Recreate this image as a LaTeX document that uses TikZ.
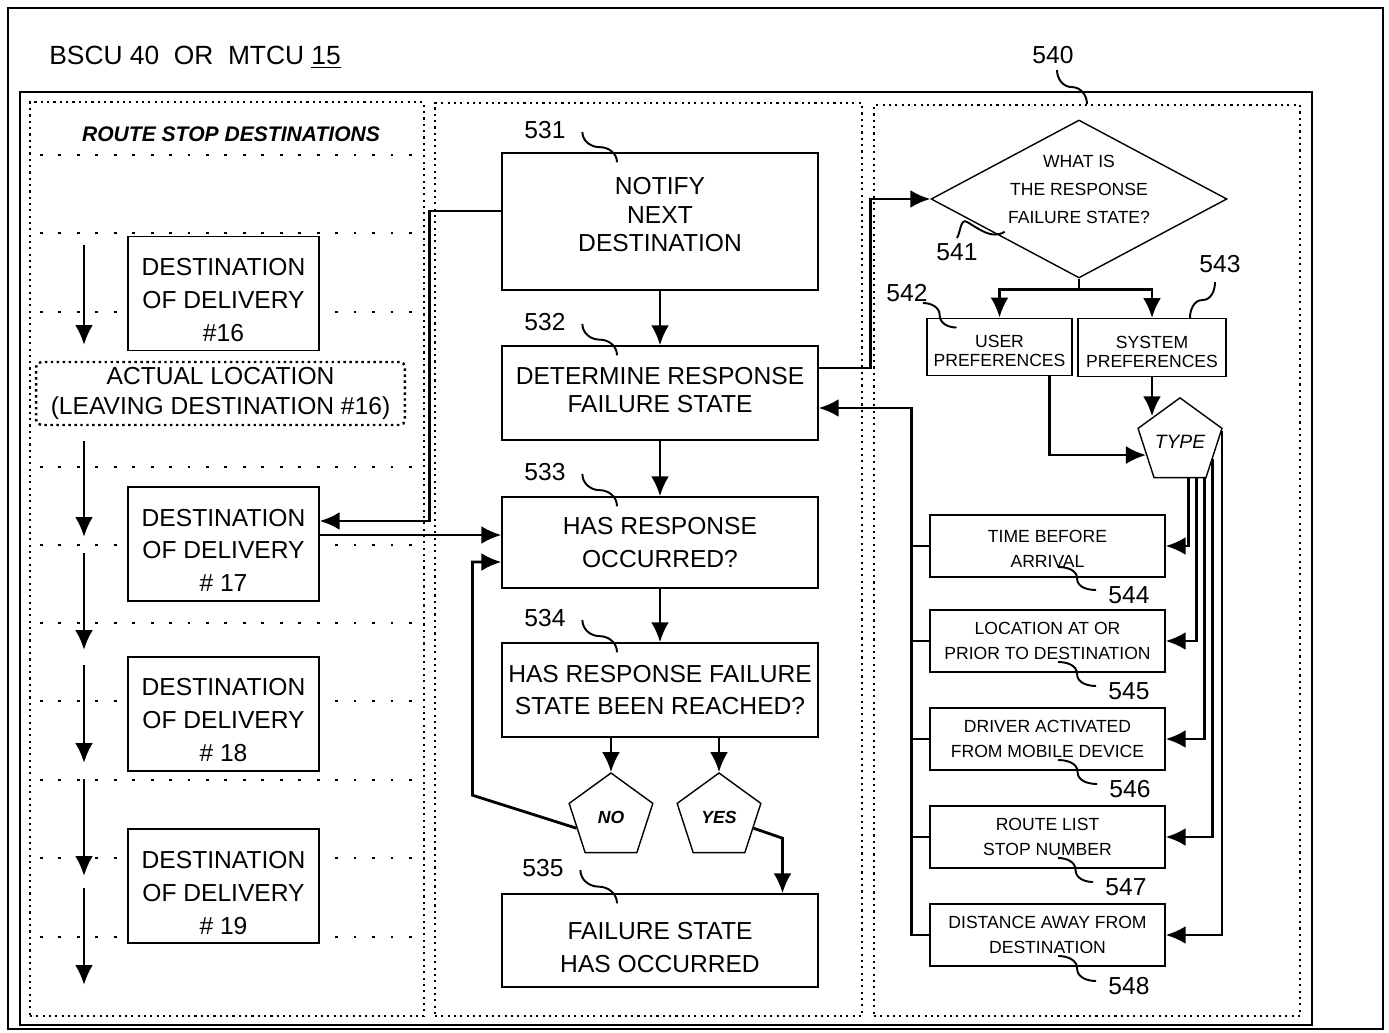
\documentclass[tikz,border=0pt]{standalone}
\usepackage{fontspec}
\setmainfont{Liberation Sans}
\usetikzlibrary{arrows.meta,shapes.geometric,calc}

\tikzset{
  box/.style={draw, line width=0.8pt, fill=white, align=center, inner sep=0pt,
    font=\fontsize{14}{18.7}\selectfont},
  dest/.style={box, minimum width=3.82cm, minimum height=2.28cm},
  stepbox/.style={box, minimum width=6.32cm, minimum height=1.86cm},
  prefbox/.style={box, minimum height=1.15cm, font=\fontsize{10}{10.8}\selectfont},
  typebox/.style={box, minimum width=4.7cm, minimum height=1.24cm,
    font=\fontsize{10}{14.2}\selectfont},
  penta/.style={draw, line width=0.8pt, fill=white, regular polygon,
    regular polygon sides=5, minimum size=1.76cm, inner sep=0pt},
  refnum/.style={font=\fontsize{14}{16}\selectfont, inner sep=0pt},
  flow/.style={line width=1.6pt, -{Latex[length=0.4cm,width=0.36cm]}},
  wire/.style={line width=1.6pt},
  lead/.style={line width=1.1pt},
  colbox/.style={draw, line width=1pt, dash pattern=on 1.2pt off 2.4pt, inner sep=0pt},
  rowline/.style={line width=1.6pt, dash pattern=on 1.6pt off 8.9pt},
}

% reference-numeral lead lines
\newcommand{\leaddown}[2]{\draw[lead] (#1) to[out=-90,in=180] ($(#1)!0.5!(#2)$) to[out=0,in=90] (#2);}
\newcommand{\leadright}[2]{\draw[lead] (#1) to[out=0,in=90] ($(#1)!0.5!(#2)$) to[out=-90,in=180] (#2);}
% struts that move a box text down (top) or up (bottom)
\newcommand{\lowtext}[1]{\rule{0pt}{#1}}
\newcommand{\hightext}[1]{\rule[-#1]{0pt}{#1}}

\begin{document}
\begin{tikzpicture}[x=0.02cm, y=-0.02cm]
\useasboundingbox (0,0) rectangle (1389,1033);

% frames
\draw[line width=1.1pt] (8,8) rectangle (1383,1029);
\draw[line width=1.4pt] (20,92) rectangle (1312,1025);
\node[anchor=west, inner sep=0pt, font=\fontsize{15}{18}\selectfont] (title) at (49,57)
  {BSCU 40\ \ OR\ \ MTCU \underline{15}};

% columns
\node[colbox, minimum width=7.88cm, minimum height=18.28cm] (col1) at (227,559) {};
\node[colbox, minimum width=8.54cm, minimum height=18.26cm] (col2) at (648.5,559.5) {};
\node[colbox, minimum width=8.52cm, minimum height=18.22cm] (col3) at (1087,560.5) {};

% route stop destinations
\node[font=\fontsize{12}{14}\selectfont\bfseries\itshape] (rsd) at (231,134) {ROUTE STOP DESTINATIONS};
\foreach \y in {155,233,312,467,545,623,701,780,858,937}
  \draw[rowline] (40,\y) -- (412,\y);
\node[dest] (d16) at (223.5,293.5) {\lowtext{17pt}DESTINATION\\OF DELIVERY\\\#16};
\node[draw, line width=1.4pt, dash pattern=on 1.4pt off 2pt, rounded corners=3pt, fill=white,
  minimum width=7.38cm, minimum height=1.26cm, align=center, inner sep=0pt,
  font=\fontsize{14}{16.6}\selectfont] (actual) at (220.5,393.5)
  {ACTUAL LOCATION\\(LEAVING DESTINATION \#16)};
\node[dest] (d17) at (223.5,544) {\lowtext{17pt}DESTINATION\\OF DELIVERY\\\# 17};
\node[dest] (d18) at (223.5,714) {\lowtext{17pt}DESTINATION\\OF DELIVERY\\\# 18};
\node[dest] (d19) at (223.5,886) {\lowtext{17.5pt}DESTINATION\\OF DELIVERY\\\# 19};
\foreach \ya/\yb in {245/345,441/537,553/650,665/763,779/876,888/985}
  \draw[flow] (84,\ya) -- (84,\yb);

% response steps
\node[refnum] (l531) at (545,130) {531};
\node[stepbox, minimum height=2.74cm, font=\fontsize{14}{16.4}\selectfont] (s531) at (660,221.5)
  {NOTIFY\\NEXT\\DESTINATION\hightext{8pt}};
\node[refnum] (l532) at (545,322) {532};
\node[stepbox, minimum height=1.88cm, font=\fontsize{14}{16.4}\selectfont] (s532) at (660,393)
  {DETERMINE RESPONSE\\FAILURE STATE\hightext{3.5pt}};
\node[refnum] (l533) at (545,472) {533};
\node[stepbox, minimum height=1.82cm] (s533) at (660,542.5) {HAS RESPONSE\\OCCURRED?};
\node[refnum] (l534) at (545,618) {534};
\node[stepbox, minimum height=1.88cm] (s534) at (660,690)
  {HAS RESPONSE FAILURE\\STATE BEEN REACHED?};
\node[penta, font=\fontsize{10}{12}\selectfont\bfseries\itshape] (no) at (611,817) {NO};
\node[penta, font=\fontsize{10}{12}\selectfont\bfseries\itshape] (yes) at (719,817) {YES};
\node[refnum] (l535) at (543,868) {535};
\node[stepbox] (s535) at (660,940.5) {\lowtext{18pt}FAILURE STATE\\HAS OCCURRED};

% response failure state
\node[refnum] (l540) at (1053,55) {540};
\node[diamond, draw, line width=0.8pt, fill=white, aspect=1.9, inner sep=-2pt,
  minimum width=5.92cm, minimum height=3.16cm, align=center,
  font=\fontsize{10}{15.9}\selectfont] (dia) at (1079,199)
  {WHAT IS\\THE RESPONSE\\FAILURE STATE?\hightext{11.4pt}};
\node[refnum] (l541) at (957,252) {541};
\node[refnum] (l542) at (907,293) {542};
\node[refnum] (l543) at (1220,264) {543};
\node[prefbox, minimum width=2.9cm] (user) at (999.5,347) {\lowtext{12pt}USER\\PREFERENCES};
\node[prefbox, minimum width=2.96cm] (sys) at (1152,347.5) {\lowtext{12pt}SYSTEM\\PREFERENCES};
\node[penta, font=\fontsize{11}{13}\selectfont\itshape] (type) at (1180,442) {TYPE};
\node[typebox] (t544) at (1047.5,546) {\lowtext{10pt}TIME BEFORE\\ARRIVAL};
\node[typebox] (t545) at (1047.5,641) {LOCATION AT OR\\PRIOR TO DESTINATION};
\node[typebox] (t546) at (1047.5,739) {DRIVER ACTIVATED\\FROM MOBILE DEVICE};
\node[typebox] (t547) at (1047.5,837) {ROUTE LIST\\STOP NUMBER};
\node[typebox] (t548) at (1047.5,935) {DISTANCE AWAY FROM\\DESTINATION};
\node[refnum] (l544) at (1129,595) {544};
\node[refnum] (l545) at (1129,691) {545};
\node[refnum] (l546) at (1130,789) {546};
\node[refnum] (l547) at (1126,887) {547};
\node[refnum] (l548) at (1129,986) {548};

% flow in the middle column
\draw[flow] (s531) -- (s532);
\draw[flow] (s532) -- (s533);
\draw[flow] (s533) -- (s534);
\draw[flow] (no.north |- s534.south) -- (no.north);
\draw[flow] (yes.north |- s534.south) -- (yes.north);
\draw[flow] (no.side 2) -- ++(-104,-33) |- ([yshift=-0.39cm]s533.west);
\draw[flow] (yes.side 4) -- ++(29,10) coordinate (yk) -- (yk |- s535.north);

% to and from the route stops
\draw[flow] ([yshift=0.21cm]s531.west) -- ++(-72,0) |- ([yshift=0.46cm]d17.east);
\draw[flow] (d17.east) ++(0,-9) coordinate (d17out) -- (d17out -| s533.west);

% failure state selection
\draw[flow] ([yshift=0.5cm]s532.east) -- ++(52,0) |- (dia.west);
\draw[wire] (dia.south) -- ++(0,11) coordinate (split);
\draw[flow] (split) -| (user.north);
\draw[flow] (split) -| (sys.north);
\draw[flow] ([xshift=1cm]user.south) |- (type.201);
\draw[flow] (sys.south) -- (sys.south |- type.136);
\draw[flow] (type.-77) |- (t544.east);
\draw[flow] (type.-66) |- (t545.east);
\draw[flow] (type.-56) |- (t546.east);
\draw[flow] (type.-28) |- (t547.east);
\draw[flow] (type.15) |- (t548.east);
\foreach \b in {t544,t545,t546,t547}
  \draw[wire] (\b.west) -- ++(-18,0);
\draw[flow] (t548.west) -- ++(-18,0) |- ([yshift=-0.3cm]s532.east);

% lead lines
\leaddown{[xshift=0.33cm,yshift=-0.04cm]l531.east}{[xshift=-0.86cm,yshift=-0.2cm]s531.north}
\leaddown{[xshift=0.33cm,yshift=-0.04cm]l532.east}{[xshift=-0.86cm,yshift=-0.2cm]s532.north}
\leaddown{[xshift=0.33cm,yshift=-0.04cm]l533.east}{[xshift=-0.86cm,yshift=-0.2cm]s533.north}
\leaddown{[xshift=0.33cm,yshift=-0.04cm]l534.east}{[xshift=-0.86cm,yshift=-0.2cm]s534.north}
\leaddown{[xshift=0.33cm,yshift=-0.04cm]l535.east}{[xshift=-0.86cm,yshift=-0.2cm]s535.north}
\leaddown{[xshift=0.08cm,yshift=-0.12cm]l540.south}{col3.north}
\draw[lead] ([yshift=0.1cm]l541.north) to[out=60,in=150] ($(dia.west)!0.3!(dia.south)+(-8,-1)$)
  to[out=-30,in=210] ($(dia.west)!0.5!(dia.south)+(0,-7)$);
\leadright{[xshift=-0.1cm,yshift=-0.2cm]l542.east}{[xshift=-0.86cm,yshift=-0.2cm]user.north}
\draw[lead] ([xshift=-0.1cm,yshift=-0.18cm]l543.south) to[out=-90,in=0]
  ($([xshift=-0.1cm,yshift=-0.18cm]l543.south)!0.5!([xshift=0.76cm]sys.north)$)
  to[out=180,in=90] ([xshift=0.76cm]sys.north);
\foreach \n in {544,545,546,547,548}
  {\leadright{[xshift=0.21cm,yshift=-0.42cm]t\n.center}{[xshift=-0.24cm,yshift=0.1cm]l\n.west}}

\end{tikzpicture}
\end{document}
